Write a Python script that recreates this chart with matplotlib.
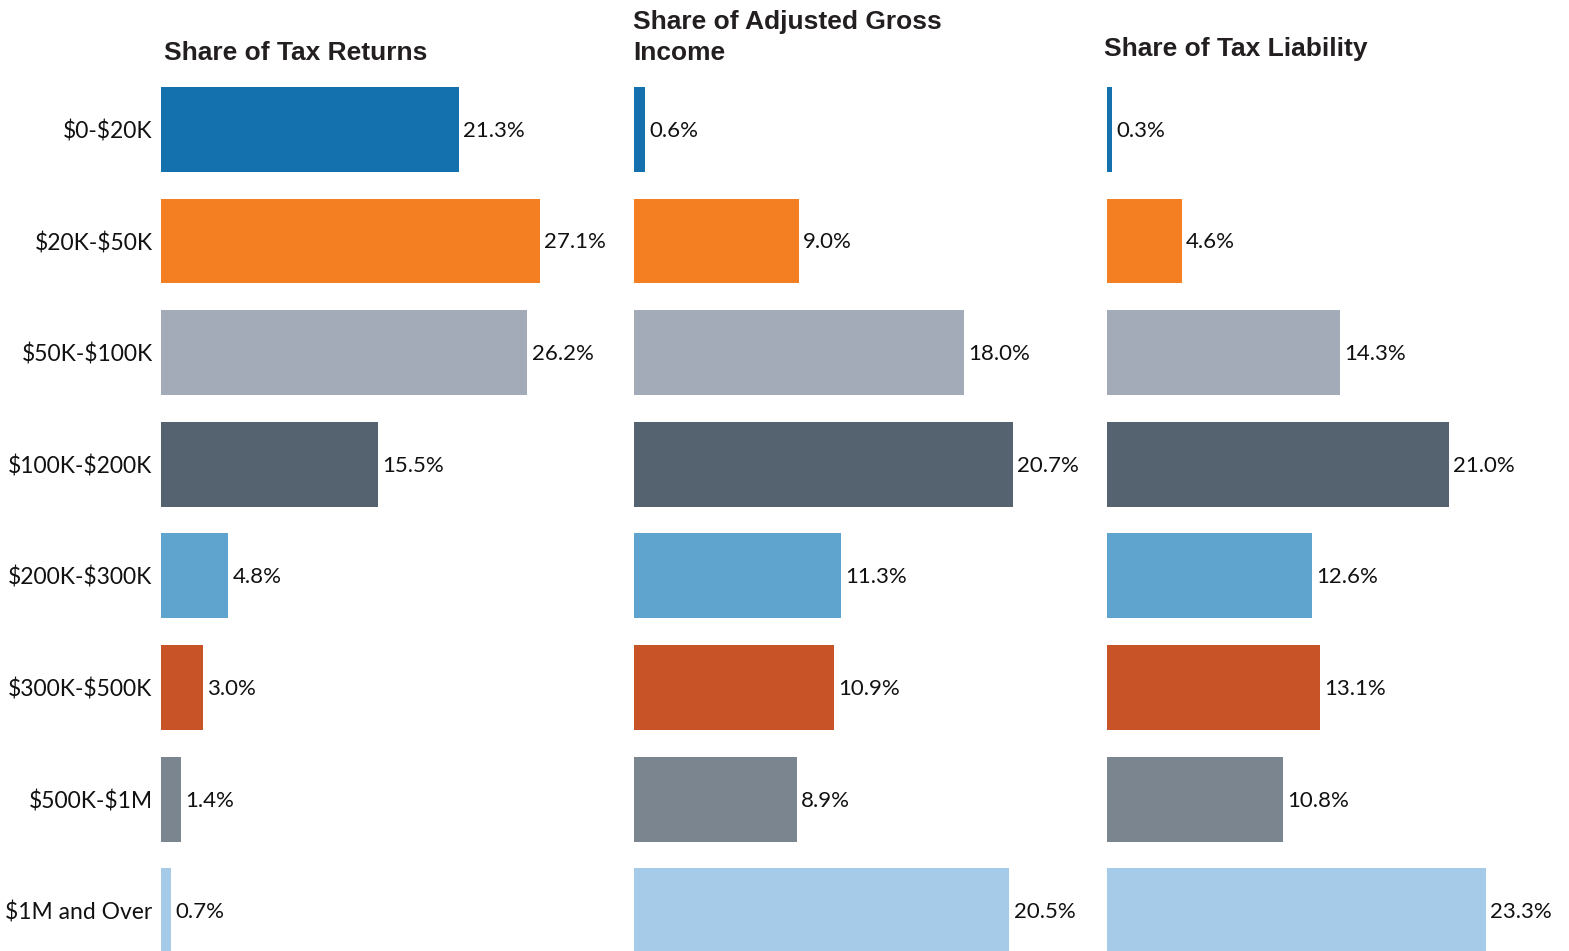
import matplotlib.pyplot as plt

# data
brackets = ['\\$0-\\$20K', '\\$20K-\\$50K', '\\$50K-\\$100K', '\\$100K-\\$200K',
            '\\$200K-\\$300K', '\\$300K-\\$500K', '\\$500K-\\$1M', '\\$1M and Over']
tax_returns = [21.3, 27.1, 26.2, 15.5, 4.8, 3.0, 1.4, 0.7]
agi = [0.6, 9.0, 18.0, 20.7, 11.3, 10.9, 8.9, 20.5]
tax_liability = [0.3, 4.6, 14.3, 21.0, 12.6, 13.1, 10.8, 23.3]
titles = ['Share of Tax Returns', 'Share of Adjusted Gross\nIncome', 'Share of Tax Liability']

colors = ['#1471ad', '#f47f22', '#a3abb8', '#55626f',
          '#5fa4cf', '#c75327', '#7b858f', '#a5cbe9']

W, H = 1569, 951
fig = plt.figure(figsize=(W / 100, H / 100), dpi=100)

lefts = [161, 634, 1107]
ax_w = 440
top_px, bot_px = 73.6, 966.6
title_x = [164, 633, 1104]
title_y = [60, 60, 56]

for k, (vals, title) in enumerate(zip([tax_returns, agi, tax_liability], titles)):
    ax = fig.add_axes([lefts[k] / W, (H - bot_px) / H, ax_w / W, (bot_px - top_px) / H])
    y = list(range(len(brackets)))
    ax.barh(y, vals, height=0.76, color=colors)
    ax.set_ylim(len(brackets) - 0.5, -0.5)
    ax.set_xlim(0, max(vals) * ax_w / 379)
    for yi, v in zip(y, vals):
        ax.annotate(f'{v:.1f}%', (v, yi), xytext=(3, -1), textcoords='offset points',
                    va='center', ha='left', fontsize=16, family='Lato', color='#111111')
    ax.set_xticks([])
    if k == 0:
        ax.set_yticks(y)
        ax.set_yticklabels(brackets, fontsize=16.5, family='Lato', color='#111111')
        ax.tick_params(axis='y', length=0, pad=6)
    else:
        ax.set_yticks([])
    for s in ax.spines.values():
        s.set_visible(False)
    fig.text(title_x[k] / W, (H - title_y[k]) / H, title, ha='left', va='baseline',
             fontsize=19, fontweight='bold', family='Liberation Sans', color='#231f20',
             linespacing=1.35)

fig.savefig('out.png', dpi=100)
